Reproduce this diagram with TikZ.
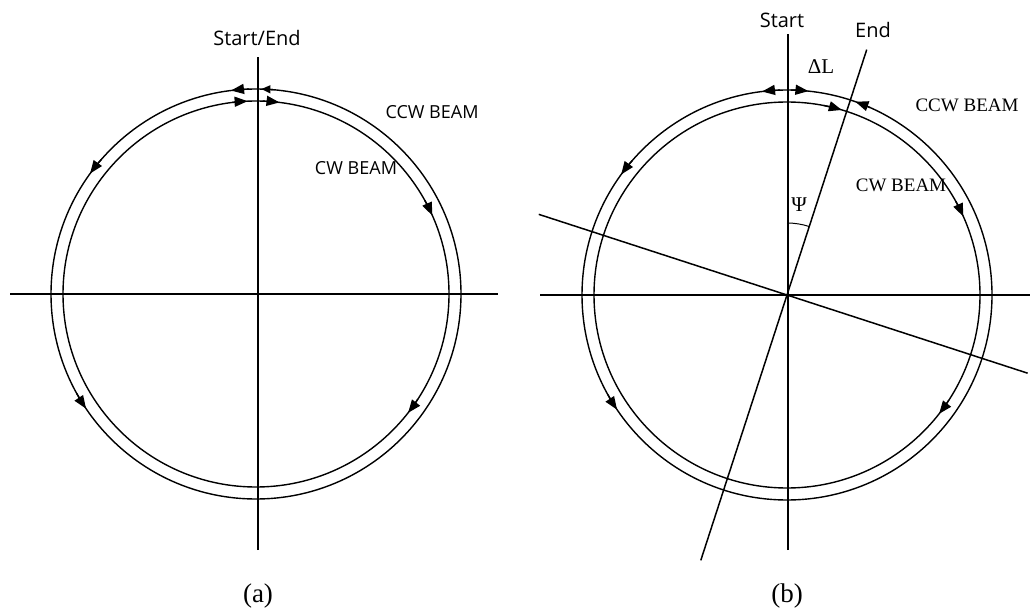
\documentclass[tikz,border=0pt]{standalone}
\usepackage{fontspec}
\setmainfont{Liberation Serif}
\newfontfamily\lblfont{Open Sans}
\usetikzlibrary{arrows.meta}
\begin{document}
\begin{tikzpicture}[x=1pt,y=1pt,
  ring/.style={line width=1.4pt},
  axisline/.style={line width=1.5pt},
  bigtip/.style={line width=1.4pt,-{Triangle[length=13pt,width=10pt]}},
  smalltip/.style={line width=1.4pt,-{Triangle[length=9pt,width=8pt]}},
  sanslbl/.style={font=\lblfont\fontsize{20}{24}\selectfont},
  beamsans/.style={font=\lblfont\fontsize{18}{22}\selectfont},
  beamserif/.style={font=\fontsize{19}{23}\selectfont},
  caption/.style={font=\fontsize{27}{32}\selectfont}]
\useasboundingbox (0,0) rectangle (1033,614);
% ---------------- (a) ----------------
\coordinate (ca) at (256,320);
\draw[axisline] (10,320) -- (498,320);
\draw[axisline] (258,64) -- (258,557);
\draw[ring] (ca) circle[radius=205];
\draw[ring] (ca) circle[radius=193];
% CCW beam (outer)
\draw[bigtip] ([shift={(92:205)}]ca) arc[start angle=92,end angle=97,radius=205];
\draw[smalltip] ([shift={(85:205)}]ca) arc[start angle=85,end angle=88.5,radius=205];
\draw[bigtip] ([shift={(139:205)}]ca) arc[start angle=139,end angle=144,radius=205];
\draw[bigtip] ([shift={(209:205)}]ca) arc[start angle=209,end angle=214,radius=205];
% CW beam (inner)
\draw[bigtip] ([shift={(97:193)}]ca) arc[start angle=97,end angle=92.5,radius=193];
\draw[bigtip] ([shift={(88:193)}]ca) arc[start angle=88,end angle=83,radius=193];
\draw[bigtip] ([shift={(29:193)}]ca) arc[start angle=29,end angle=24,radius=193];
\draw[bigtip] ([shift={(-33:193)}]ca) arc[start angle=-33,end angle=-38,radius=193];
\node[sanslbl] (sea) at (257,576) {Start/End};
\node[beamsans] (ccwa) at (432,502) {CCW BEAM};
\node[beamsans] (cwa) at (356,446) {CW BEAM};
\node[caption] (capa) at (258,18) {(a)};
% ---------------- (b) ----------------
\coordinate (cb) at (787,319);
\draw[axisline] (540,319) -- (1030,319);
\draw[axisline] (788,64) -- (788,580);
\draw[axisline] ([shift={(252:279)}]cb) -- ([shift={(72:258)}]cb);
\draw[axisline] ([shift={(162:261)}]cb) -- ([shift={(-18:253)}]cb);
\draw[ring] (cb) circle[radius=205];
\draw[ring] (cb) circle[radius=193];
% CCW beam (outer)
\draw[bigtip] ([shift={(92:205)}]cb) arc[start angle=92,end angle=97,radius=205];
\draw[bigtip] ([shift={(89:205)}]cb) arc[start angle=89,end angle=84,radius=205];
\draw[bigtip] ([shift={(66:205)}]cb) arc[start angle=66,end angle=70.5,radius=205];
\draw[bigtip] ([shift={(139:205)}]cb) arc[start angle=139,end angle=144,radius=205];
\draw[bigtip] ([shift={(209:205)}]cb) arc[start angle=209,end angle=214,radius=205];
% CW beam (inner)
\draw[bigtip] ([shift={(79:193)}]cb) arc[start angle=79,end angle=73.5,radius=193];
\draw[bigtip] ([shift={(29:193)}]cb) arc[start angle=29,end angle=24,radius=193];
\draw[bigtip] ([shift={(-33:193)}]cb) arc[start angle=-33,end angle=-38,radius=193];
% angle psi
\draw[line width=1pt] ([shift={(90:72)}]cb) arc[start angle=90,end angle=72,radius=72];
\node[font=\fontsize{21}{24}\selectfont] (psi) at (799,409) {Ψ};
\node[sanslbl] (st) at (782,594) {Start};
\node[sanslbl] (en) at (873,584) {End};
\node[font=\fontsize{21}{24}\selectfont] (dl) at (821,547) {ΔL};
\node[beamserif] (ccwb) at (967,509) {CCW BEAM};
\node[beamserif] (cwb) at (901,429) {CW BEAM};
\node[caption] (capb) at (787,18) {(b)};
\end{tikzpicture}
\end{document}
